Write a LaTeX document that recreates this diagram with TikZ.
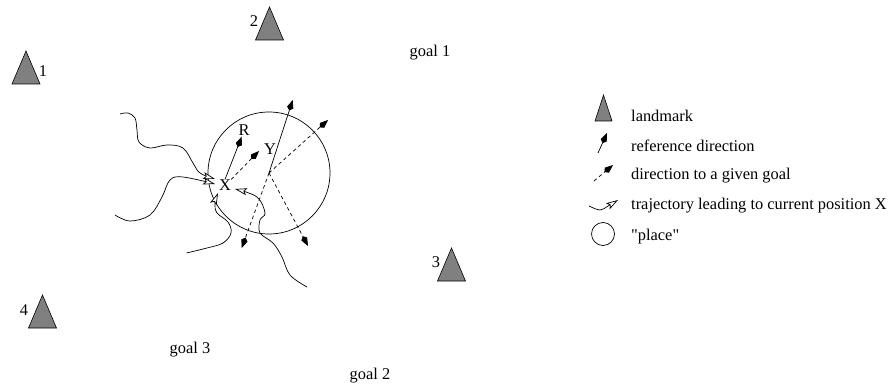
\documentclass[tikz,border=0pt]{standalone}
\usepackage{fontspec}
\setmainfont{Liberation Serif}[Ligatures=TeXOff]
\usetikzlibrary{arrows.meta}
\tikzset{
  landmark/.style={draw=black,fill=black!50,line width=0.6pt,line join=miter},
  lbl/.style={inner sep=0pt,font=\fontsize{16.4}{16.4}\selectfont},
  refdir/.style={line width=0.7pt,-{Kite[length=11pt,width=6.5pt,inset=3pt]}},
  goaldir/.style={line width=0.7pt,dash pattern=on 3.5pt off 3pt,-{Kite[length=11pt,width=6.5pt,inset=3pt]}},
  traj/.style={line width=0.7pt,-{Stealth[open,fill=white,length=12pt,width=7pt,inset=2.5pt,line width=0.7pt]}}
}
\newcommand{\landmarkat}[4]{\draw[landmark] (#1,#2) -- ++(-#3*0.5,#4) -- ++(#3,0) -- cycle;}
\begin{document}
\begin{tikzpicture}[x=1pt,y=-1pt]
  \useasboundingbox (0,0) rectangle (891,385);
  % landmarks
  \landmarkat{269.5}{7}{28}{33}
  \landmarkat{26}{51}{28}{33}
  \landmarkat{451.5}{248}{28}{33}
  \landmarkat{42.5}{295}{28}{33}
  \node[lbl] (n1) at (43,71) {1};
  \node[lbl] (n2) at (254,21) {2};
  \node[lbl] (n3) at (436,262) {3};
  \node[lbl] (n4) at (24,310) {4};
  \node[lbl] (g1) at (430,53) {goal 1};
  \node[lbl] (g2) at (370,376) {goal 2};
  \node[lbl] (g3) at (190,350) {goal 3};
  % place
  \node[circle,draw=black,line width=0.7pt,minimum size=122pt,inner sep=0pt] (place) at (269,173) {};
  \node[lbl] (X) at (225,185) {X};
  \node[lbl] (Y) at (270,149) {Y};
  \node[lbl] (R) at (244,130) {R};
  \coordinate (c) at (269,173);
  \coordinate (rtip) at (241.7,136.7);
  \coordinate (gtip) at (259,151);
  \draw[refdir] (X.north) -- (rtip);
  \draw[goaldir] (X.north east) -- (gtip);
  \coordinate (top) at (292.7,100);
  \coordinate (g1tip) at (328,120);
  \coordinate (g2tip) at (241.7,248);
  \coordinate (g3tip) at (308,246);
  \draw[refdir] (c) -- (top);
  \draw[goaldir] (c) -- (g1tip);
  \draw[goaldir] (c) -- (g2tip);
  \draw[goaldir] (c) -- (g3tip);
  % trajectories
  \draw[traj] plot[smooth,tension=0.6] coordinates {(120,114) (128,113) (135,118) (137,130) (139,142) (150,148) (167,145) (183,148) (193,163) (200,173) (215,179)};
  \draw[traj] plot[smooth,tension=0.6] coordinates {(115,215) (130,221) (150,215) (162,197) (170,180) (183,177) (215,184)};
  \draw[traj] plot[smooth,tension=0.6] coordinates {(186.5,253) (207,248) (223,243) (231,233) (228,222) (217,213) (215,203) (218,193)};
  \draw[traj] plot[smooth,tension=0.6] coordinates {(307,287) (290,275) (282,257) (273,243) (260,233) (260,220) (265,213) (257,197) (235,189)};
  % legend
  \landmarkat{603.5}{95}{17}{26}
  \coordinate (la) at (598,153);
  \coordinate (lb) at (607,133);
  \draw[refdir] (la) -- (lb);
  \coordinate (lc) at (594,181);
  \coordinate (ld) at (613,165);
  \draw[goaldir] (lc) -- (ld);
  \draw[traj] plot[smooth,tension=0.6] coordinates {(589,206) (600,210) (608,206) (618,200)};
  \node[circle,draw=black,line width=0.7pt,minimum size=23pt,inner sep=0pt] (lplace) at (603,234) {};
  \node[lbl,anchor=base west] (t1l) at (631,122) {landmark};
  \node[lbl,anchor=base west] (t2l) at (631,151) {reference direction};
  \node[lbl,anchor=base west] (t3l) at (631,179) {direction to a given goal};
  \node[lbl,anchor=base west] (t4l) at (631,209) {trajectory leading to current position X};
  \node[lbl,anchor=base west] (t5l) at (631,240) {"place"};
\end{tikzpicture}
\end{document}
